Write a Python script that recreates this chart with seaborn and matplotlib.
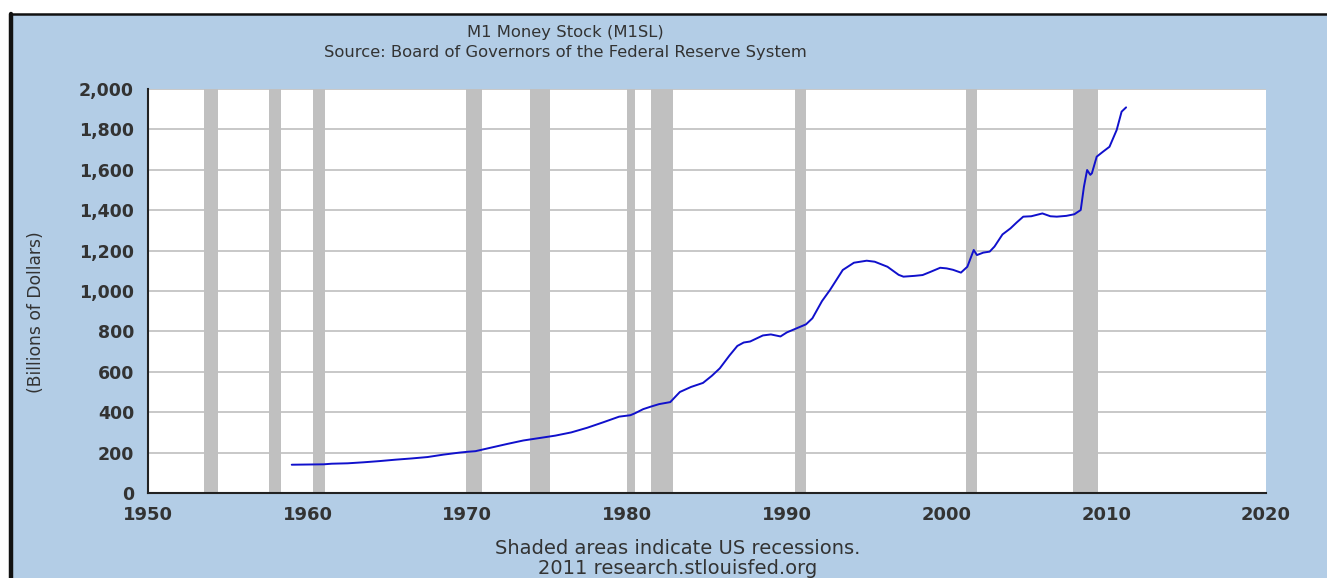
import numpy as np
import pandas as pd
import seaborn as sns
import matplotlib.pyplot as plt
from matplotlib.patches import Rectangle
from matplotlib.lines import Line2D
from matplotlib.ticker import StrMethodFormatter

# M1 money stock (billions of dollars)
dates = [1959.0, 1960.0, 1961.0, 1961.5, 1962.5, 1963.5, 1964.5, 1965.5, 1966.5,
         1967.5, 1968.5, 1969.5, 1970.0, 1970.5, 1971.5, 1972.5, 1973.5, 1974.5,
         1975.5, 1976.5, 1977.5, 1978.5, 1979.5, 1980.2, 1980.5, 1981.0, 1981.5,
         1982.0, 1982.7, 1983.3, 1984.0, 1984.75, 1985.3, 1985.8, 1986.4, 1986.9,
         1987.3, 1987.7, 1988.5, 1989.0, 1989.6, 1990.0, 1990.6, 1991.2, 1991.6,
         1992.2, 1992.7, 1993.5, 1994.2, 1995.0, 1995.5, 1996.3, 1997.0, 1997.3,
         1998.0, 1998.5, 1999.0, 1999.6, 2000.0, 2000.4, 2000.9, 2001.3, 2001.7,
         2001.9, 2002.3, 2002.7, 2003.0, 2003.5, 2004.0, 2004.4, 2004.8, 2005.3,
         2006.0, 2006.5, 2006.9, 2007.5, 2008.0, 2008.4, 2008.6, 2008.8, 2009.0,
         2009.1, 2009.4, 2009.8, 2010.2, 2010.65, 2010.96, 2011.24]
m1 = [140, 141, 142, 145, 147, 152, 158, 165, 171,
      178, 190, 200, 204, 207, 225, 243, 260, 272,
      284, 300, 323, 350, 378, 385, 395, 415, 428,
      440, 450, 500, 525, 545, 580, 617, 680, 728,
      745, 750, 780, 785, 775, 795, 815, 835, 865,
      950, 1005, 1104, 1140, 1150, 1145, 1120, 1080, 1071,
      1075, 1079, 1095, 1115, 1112, 1105, 1091, 1120, 1203,
      1178, 1190, 1195, 1220, 1280, 1310, 1340, 1368, 1370,
      1384, 1370, 1368, 1372, 1380, 1401, 1516, 1599, 1575,
      1583, 1665, 1690, 1714, 1797, 1888, 1909]

# US recessions
rec_start = [1953.5, 1957.6, 1960.3, 1969.9, 1973.9, 1980.0, 1981.5, 1990.5, 2001.2, 2007.9]
rec_end = [1954.4, 1958.3, 1961.1, 1970.9, 1975.2, 1980.5, 1982.9, 1991.2, 2001.9, 2009.5]

yticks = [0, 200, 400, 600, 800, 1000, 1200, 1400, 1600, 1800, 2000]
xticks = [1950, 1960, 1970, 1980, 1990, 2000, 2010, 2020]

W, H = 1327, 578
bg = '#b3cde6'
txt = '#333333'

sns.set_style("white")
fig = plt.figure(figsize=(W / 100, H / 100), dpi=100)
fig.patch.set_facecolor('white')

# blue panel with black frame on top and left
fig.add_artist(Rectangle((11 / W, 0), 1, (H - 14) / H, transform=fig.transFigure,
                         facecolor=bg, edgecolor='none', zorder=-10))
fig.add_artist(Line2D([11 / W, 1], [(H - 14) / H] * 2, transform=fig.transFigure,
                      color='#111111', lw=1.8))
fig.add_artist(Line2D([11 / W] * 2, [0, (H - 14) / H], transform=fig.transFigure,
                      color='#111111', lw=3.2))

ax = fig.add_axes([148 / W, 1 - 493 / H, 1118 / W, 404 / H])
ax.set_facecolor('white')

for s, e in zip(rec_start, rec_end):
    ax.axvspan(s, e, color='#c0c0c0', lw=0, zorder=2)

df = pd.DataFrame({'date': dates, 'm1': m1})
sns.lineplot(data=df, x='date', y='m1', ax=ax, color='#1010cc', linewidth=1.4, zorder=3)

ax.set_xlim(1950, 2020)
ax.set_ylim(0, 2000)
ax.set_xticks(xticks)
ax.set_yticks(yticks)
ax.yaxis.set_major_formatter(StrMethodFormatter('{x:,.0f}'))
ax.grid(axis='y', color='#c8c8c8', lw=1.4, zorder=1)
ax.grid(axis='x', visible=False)
ax.set_axisbelow(True)

for side in ['top', 'right']:
    ax.spines[side].set_visible(False)
for side in ['left', 'bottom']:
    ax.spines[side].set_color('#222222')
    ax.spines[side].set_linewidth(1.5)

ax.tick_params(axis='y', direction='in', length=8, width=1.3, color='#222222',
               labelsize=12.5, labelcolor=txt, pad=10)
ax.tick_params(axis='x', direction='in', length=6, width=1.3, color='#222222',
               labelsize=13, labelcolor=txt, pad=9)
for lab in ax.get_xticklabels() + ax.get_yticklabels():
    lab.set_fontweight('bold')
ax.set_xlabel('')
ax.set_ylabel('')

fig.text(36 / W, 1 - 312 / H, '(Billions of Dollars)', rotation=90, ha='center', va='center',
         fontsize=12.3, color=txt)

fig.text(565 / W, 1 - 33 / H, 'M1 Money Stock (M1SL)', ha='center', va='center',
         fontsize=11.8, color=txt)
fig.text(565 / W, 1 - 52 / H, 'Source: Board of Governors of the Federal Reserve System',
         ha='center', va='center', fontsize=11.8, color=txt)
fig.text(678 / W, 1 - 549 / H, 'Shaded areas indicate US recessions.', ha='center', va='center',
         fontsize=14, color=txt)
fig.text(678 / W, 1 - 568 / H, '2011 research.stlouisfed.org', ha='center', va='center',
         fontsize=14, color=txt)

fig.savefig('out.png', dpi=100, facecolor=fig.get_facecolor())
